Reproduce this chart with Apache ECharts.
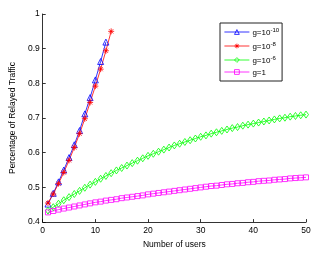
<!DOCTYPE html>
<html><head><meta charset="utf-8">
<script src="https://cdn.jsdelivr.net/npm/echarts@6/dist/echarts.min.js"></script>
<style>html,body{margin:0;padding:0;background:#fff}#c{width:316px;height:254px}</style>
</head><body><div id="c"></div>
<script>
var xTicks = [0, 10, 20, 30, 40, 50];
var yTicks = [0.4, 0.5, 0.6, 0.7, 0.8, 0.9, 1];
var seriesNames = ['g=10^-10', 'g=10^-8', 'g=10^-6', 'g=1'];
var usersBlue = [1,2,3,4,5,6,7,8,9,10,11,12];
var g10 = [0.452,0.483,0.516,0.550,0.586,0.623,0.664,0.712,0.759,0.810,0.863,0.919];
var usersRed = [1,2,3,4,5,6,7,8,9,10,11,12,13];
var g8 = [0.455,0.481,0.511,0.543,0.578,0.615,0.655,0.698,0.745,0.792,0.841,0.894,0.950];
var usersAll = [];
for (var i = 1; i <= 50; i++) usersAll.push(i);
var g6 = [0.433,0.443,0.453,0.463,0.472,0.481,0.490,0.499,0.508,0.516,0.525,0.533,0.541,0.549,0.556,0.563,0.570,0.577,0.584,0.591,0.597,0.603,0.609,0.615,0.621,0.626,0.631,0.636,0.641,0.646,0.650,0.655,0.659,0.663,0.667,0.671,0.674,0.678,0.681,0.684,0.687,0.690,0.693,0.696,0.699,0.701,0.704,0.706,0.708,0.710];
var g1 = [0.428,0.432,0.436,0.439,0.442,0.445,0.448,0.451,0.454,0.457,0.459,0.462,0.464,0.466,0.469,0.471,0.473,0.475,0.477,0.480,0.482,0.484,0.486,0.488,0.490,0.492,0.494,0.496,0.498,0.500,0.502,0.504,0.505,0.507,0.509,0.510,0.512,0.513,0.515,0.516,0.518,0.519,0.520,0.522,0.523,0.524,0.526,0.527,0.528,0.529];

function zip(xs, ys){ return xs.map(function(x,i){ return [x, ys[i]]; }); }
var star = 'path://M0,-10L0,10M-10,0L10,0M-7,-7L7,7M-7,7L7,-7M-1,-1L1,-1L1,1L-1,1Z';
var font = 'Liberation Sans, Arial, sans-serif';

function mk(name, data, color, symbol, size, fill){
  return {
    name: name, type: 'line', data: data, symbol: symbol, symbolSize: size,
    showAllSymbol: true, animation: false,
    lineStyle: { color: color, width: 0.8 },
    itemStyle: { color: fill, borderColor: color, borderWidth: 0.8 },
    emphasis: { disabled: true }
  };
}

var chart = echarts.init(document.getElementById('c'), null, {renderer: 'canvas'});
chart.setOption({
  backgroundColor: '#fff',
  animation: false,
  grid: { left: 34, right: 10, top: 14, bottom: 26, containLabel: false },
  xAxis: {
    type: 'value', min: xTicks[0], max: xTicks[xTicks.length-1], interval: 10,
    name: 'Number of users', nameLocation: 'middle', nameGap: 13,
    nameTextStyle: { fontFamily: font, fontSize: 8.5, color: '#000' },
    axisLine: { lineStyle: { color: '#000', width: 0.8 } },
    axisTick: { inside: true, length: 3, lineStyle: { color: '#000', width: 0.8 } },
    axisLabel: { fontFamily: font, fontSize: 8.5, color: '#000', margin: 4 },
    splitLine: { show: false }
  },
  yAxis: {
    type: 'value', min: yTicks[0], max: yTicks[yTicks.length-1], interval: 0.1,
    name: 'Percentage of Relayed Traffic', nameLocation: 'middle', nameGap: 18,
    nameTextStyle: { fontFamily: font, fontSize: 8.5, color: '#000' },
    axisLine: { show: true, lineStyle: { color: '#000', width: 0.8 } },
    axisTick: { show: true, inside: true, length: 3, lineStyle: { color: '#000', width: 0.8 } },
    axisLabel: { fontFamily: font, fontSize: 8.5, color: '#000', margin: 3,
      formatter: function(v){ return String(Math.round(v*10)/10); } },
    splitLine: { show: false }
  },
  legend: {
    orient: 'vertical', left: 220, top: 23,
    padding: [4, 3, 4, 4], itemGap: 4, itemWidth: 25, itemHeight: 6,
    borderColor: '#222', borderWidth: 1, backgroundColor: '#fff',
    lineStyle: { width: 0.8 },
    itemStyle: { borderWidth: 0.8 },
    data: seriesNames.map(function(n){ return { name: n, itemStyle: { borderWidth: 0.8 } }; }),
    formatter: function(n){
      var m = n.split('^');
      if (m.length === 1) return '{b|' + n + '}';
      return '{b|' + m[0] + '}{s|' + m[1] + '}';
    },
    textStyle: { fontFamily: font, fontSize: 8, color: '#000', padding: [0,0,0,-2],
      rich: {
        b: { fontFamily: font, fontSize: 8, color: '#000', lineHeight: 10, verticalAlign: 'bottom' },
        s: { fontFamily: font, fontSize: 6, color: '#000', lineHeight: 10, verticalAlign: 'top' }
      }
    }
  },
  series: [
    mk(seriesNames[0], zip(usersBlue, g10), '#0000ff', 'triangle', 6, 'rgba(0,0,0,0)'),
    mk(seriesNames[1], zip(usersRed, g8), '#ff0000', star, 6, '#ff0000'),
    mk(seriesNames[2], zip(usersAll, g6), '#00ff00', 'diamond', [5, 7], 'rgba(0,0,0,0)'),
    mk(seriesNames[3], zip(usersAll, g1), '#ff00ff', 'rect', 5, 'rgba(0,0,0,0)')
  ]
});
</script></body></html>
